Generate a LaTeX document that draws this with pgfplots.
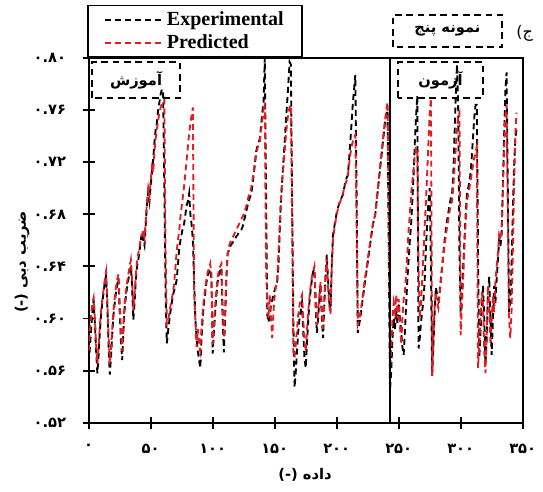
\documentclass[border=0pt]{standalone}
\usepackage{pgfplots}
\pgfplotsset{compat=1.18}
\usepackage{pgfplotstable}
\usepackage{fontspec}
\setmainfont{Liberation Serif}
\newfontfamily\arabicfont[Script=Arabic]{DejaVu Sans}
\newfontfamily\timesfont{Liberation Serif}
\TeXXeTstate=1
\definecolor{predred}{RGB}{228,28,36}

\pgfplotstableread{
x e p
0 0.566 0.575
1 0.578 0.590
2 0.592 0.603
3 0.605 0.612
4 0.614 0.616
5 0.596 0.600
6 0.575 0.580
7 0.558 0.565
8 0.572 0.578
9 0.590 0.595
10 0.603 0.606
11 0.612 0.615
12 0.620 0.622
13 0.628 0.630
14 0.633 0.636
15 0.610 0.615
16 0.580 0.588
17 0.557 0.565
18 0.570 0.578
19 0.588 0.592
20 0.603 0.606
21 0.612 0.616
22 0.620 0.624
23 0.626 0.630
24 0.631 0.634
25 0.605 0.612
26 0.583 0.590
27 0.568 0.575
28 0.590 0.596
29 0.608 0.612
30 0.617 0.620
31 0.624 0.628
32 0.630 0.634
33 0.636 0.640
34 0.640 0.645
35 0.625 0.630
36 0.599 0.606
37 0.612 0.618
38 0.630 0.634
39 0.640 0.644
40 0.645 0.650
41 0.652 0.655
42 0.660 0.662
43 0.666 0.664
44 0.660 0.668
45 0.656 0.662
46 0.672 0.675
47 0.688 0.690
48 0.697 0.700
49 0.690 0.694
50 0.702 0.706
51 0.712 0.716
52 0.722 0.712
53 0.735 0.728
54 0.745 0.738
55 0.750 0.745
56 0.760 0.752
57 0.766 0.758
58 0.772 0.762
59 0.776 0.765
60 0.775 0.766
61 0.700 0.768
62 0.620 0.650
63 0.581 0.596
64 0.590 0.598
65 0.598 0.604
66 0.606 0.610
67 0.612 0.615
68 0.618 0.620
69 0.622 0.628
70 0.625 0.640
71 0.630 0.652
72 0.642 0.660
73 0.654 0.668
74 0.660 0.678
75 0.665 0.686
76 0.670 0.694
77 0.673 0.702
78 0.680 0.712
79 0.687 0.722
80 0.690 0.732
81 0.696 0.742
82 0.680 0.750
83 0.672 0.756
84 0.660 0.762
85 0.630 0.620
86 0.600 0.600
87 0.585 0.578
88 0.575 0.592
89 0.568 0.580
90 0.562 0.575
91 0.585 0.594
92 0.601 0.606
93 0.612 0.616
94 0.620 0.624
95 0.628 0.630
96 0.633 0.636
97 0.636 0.638
98 0.638 0.642
99 0.630 0.634
100 0.573 0.580
101 0.590 0.595
102 0.605 0.610
103 0.618 0.622
104 0.628 0.632
105 0.634 0.637
106 0.637 0.640
107 0.639 0.642
108 0.600 0.610
109 0.574 0.585
110 0.600 0.605
111 0.630 0.632
112 0.650 0.648
113 0.652 0.655
114 0.655 0.658
115 0.657 0.660
116 0.658 0.662
117 0.660 0.664
118 0.661 0.666
119 0.663 0.668
120 0.664 0.670
121 0.666 0.672
122 0.667 0.674
123 0.668 0.676
124 0.670 0.678
125 0.674 0.680
126 0.678 0.683
127 0.682 0.686
128 0.686 0.690
129 0.690 0.694
130 0.693 0.697
131 0.695 0.700
132 0.702 0.706
133 0.710 0.712
134 0.718 0.720
135 0.728 0.726
136 0.732 0.730
137 0.735 0.734
138 0.738 0.736
139 0.748 0.744
140 0.758 0.752
141 0.766 0.760
142 0.800 0.766
143 0.700 0.640
144 0.603 0.612
145 0.597 0.600
146 0.603 0.618
147 0.610 0.600
148 0.614 0.585
149 0.618 0.605
150 0.622 0.618
151 0.625 0.625
152 0.628 0.630
153 0.640 0.650
154 0.665 0.670
155 0.690 0.690
156 0.705 0.706
157 0.720 0.716
158 0.735 0.728
159 0.751 0.740
160 0.765 0.750
161 0.780 0.758
162 0.797 0.762
163 0.795 0.764
164 0.700 0.680
165 0.600 0.575
166 0.547 0.570
167 0.559 0.580
168 0.575 0.592
169 0.590 0.603
170 0.600 0.610
171 0.606 0.615
172 0.612 0.618
173 0.590 0.600
174 0.570 0.582
175 0.562 0.575
176 0.580 0.590
177 0.598 0.605
178 0.612 0.616
179 0.622 0.625
180 0.630 0.632
181 0.636 0.636
182 0.638 0.640
183 0.610 0.618
184 0.589 0.595
185 0.600 0.606
186 0.614 0.618
187 0.626 0.628
188 0.600 0.606
189 0.585 0.592
190 0.610 0.615
191 0.632 0.634
192 0.649 0.646
193 0.630 0.625
194 0.612 0.610
195 0.608 0.603
196 0.640 0.638
197 0.664 0.660
198 0.670 0.668
199 0.676 0.674
200 0.681 0.680
201 0.685 0.684
202 0.688 0.688
203 0.691 0.690
204 0.693 0.693
205 0.695 0.696
206 0.700 0.700
207 0.705 0.703
208 0.708 0.706
209 0.710 0.710
210 0.722 0.718
211 0.736 0.726
212 0.750 0.732
213 0.765 0.736
214 0.776 0.739
215 0.787 0.741
216 0.700 0.680
217 0.589 0.595
218 0.595 0.598
219 0.600 0.604
220 0.608 0.610
221 0.615 0.618
222 0.622 0.625
223 0.630 0.632
224 0.636 0.638
225 0.643 0.645
226 0.650 0.652
227 0.657 0.659
228 0.664 0.665
229 0.671 0.671
230 0.676 0.676
231 0.679 0.680
232 0.688 0.689
233 0.697 0.698
234 0.706 0.708
235 0.715 0.717
236 0.724 0.726
237 0.733 0.735
238 0.742 0.744
239 0.751 0.752
240 0.757 0.760
241 0.760 0.766
242 0.650 0.680
243 0.545 0.560
244 0.560 0.578
245 0.585 0.600
246 0.600 0.612
247 0.592 0.605
248 0.608 0.618
249 0.596 0.600
250 0.612 0.615
251 0.600 0.595
252 0.590 0.580
253 0.578 0.600
254 0.572 0.615
255 0.590 0.620
256 0.610 0.635
257 0.630 0.650
258 0.645 0.668
259 0.660 0.680
260 0.672 0.695
261 0.690 0.705
262 0.710 0.715
263 0.735 0.725
264 0.755 0.731
265 0.771 0.731
266 0.577 0.640
267 0.585 0.600
268 0.597 0.612
269 0.606 0.630
270 0.614 0.650
271 0.630 0.672
272 0.655 0.690
273 0.673 0.712
274 0.690 0.735
275 0.700 0.758
276 0.640 0.769
277 0.556 0.556
278 0.580 0.585
279 0.605 0.610
280 0.624 0.620
281 0.618 0.612
282 0.614 0.608
283 0.620 0.618
284 0.630 0.628
285 0.640 0.638
286 0.650 0.648
287 0.660 0.656
288 0.668 0.664
289 0.675 0.670
290 0.681 0.676
291 0.687 0.682
292 0.692 0.687
293 0.695 0.690
294 0.710 0.700
295 0.740 0.715
296 0.770 0.730
297 0.795 0.745
298 0.760 0.756
299 0.650 0.758
300 0.605 0.587
301 0.620 0.610
302 0.640 0.630
303 0.660 0.655
304 0.680 0.675
305 0.695 0.690
306 0.700 0.695
307 0.705 0.700
308 0.712 0.706
309 0.725 0.712
310 0.740 0.718
311 0.755 0.724
312 0.764 0.728
313 0.764 0.732
314 0.650 0.562
315 0.570 0.580
316 0.590 0.600
317 0.610 0.620
318 0.625 0.612
319 0.600 0.575
320 0.565 0.558
321 0.585 0.590
322 0.620 0.625
323 0.632 0.610
324 0.600 0.580
325 0.572 0.600
326 0.600 0.618
327 0.625 0.605
328 0.612 0.628
329 0.630 0.640
330 0.645 0.650
331 0.660 0.664
332 0.655 0.660
333 0.665 0.668
334 0.700 0.700
335 0.740 0.730
336 0.775 0.755
337 0.789 0.764
338 0.700 0.680
339 0.605 0.600
340 0.612 0.585
341 0.640 0.605
342 0.680 0.650
343 0.715 0.700
344 0.738 0.740
345 0.745 0.758
}\datatable

\begin{document}
\begin{tikzpicture}
\useasboundingbox (-66.525pt,-51.975pt) rectangle (340.725pt,317.025pt);
\begin{axis}[
  scale only axis,
  width=325.5pt, height=273.525pt,
  xmin=0, xmax=350, ymin=0.52, ymax=0.80,
  xtick={0,50,100,150,200,250,300,350},
  xticklabels={۰,۵۰,۱۰۰,۱۵۰,۲۰۰,۲۵۰,۳۰۰,۳۵۰},
  ytick={0.52,0.56,0.60,0.64,0.68,0.72,0.76,0.80},
  yticklabels={۰.۵۲,۰.۵۶,۰.۶۰,۰.۶۴,۰.۶۸,۰.۷۲,۰.۷۶,۰.۸۰},
  ticklabel style={font=\arabicfont\bfseries\fontsize{11}{12}\selectfont},
  xticklabel style={yshift=-8pt},
  yticklabel style={xshift=-9pt},
  tick align=center, major tick length=9pt,
  xtick pos=bottom, ytick pos=left,
  axis line style={line width=1.6pt},
  every tick/.style={line width=1.4pt, black},
  legend style={at={(rel axis cs:0,1)}, anchor=south west, xshift=-1.3pt,
    draw=black, line width=1.2pt, inner xsep=12pt, inner ysep=3pt,
    font=\timesfont\bfseries\fontsize{15}{15}\selectfont, row sep=1pt,
    cells={anchor=west}},
  legend image code/.code={\draw[#1] (0pt,0pt) -- (44pt,0pt);},
]
\addplot[black, line width=1.4pt, dash pattern=on 4.5pt off 3pt] table[x=x,y=e]{\datatable};
\addlegendentry{Experimental}
\addplot[predred, line width=1.4pt, dash pattern=on 4.5pt off 3pt] table[x=x,y=p]{\datatable};
\addlegendentry{Predicted}
\draw[line width=1.6pt] (axis cs:243,0.52) -- (axis cs:243,0.80);
\end{axis}
\begin{scope}[dash pattern=on 5pt off 3.5pt, line width=1.2pt]
\draw (2.5pt,243.5pt) rectangle (68.5pt,270.5pt);
\draw (232pt,243.5pt) rectangle (295.7pt,270.5pt);
\draw (228.2pt,281.7pt) rectangle (310pt,305.8pt);
\end{scope}
\node at (35.5pt,257pt) {\arabicfont\bfseries\fontsize{11}{12}\selectfont\beginR آموزش\endR};
\node at (263.8pt,257pt) {\arabicfont\bfseries\fontsize{11}{12}\selectfont\beginR آزمون\endR};
\node at (269pt,293.7pt) {\arabicfont\bfseries\fontsize{11}{12}\selectfont\beginR نمونه پنج\endR};
\node at (327pt,292.3pt) {\arabicfont\fontsize{12}{13}\selectfont\beginR ج)\endR};
\node[rotate=90] at (-50pt,120.5pt) {\arabicfont\bfseries\fontsize{11}{12}\selectfont (-) \beginR ضریب دبی\endR};
\node at (162.2pt,-39.4pt) {\arabicfont\bfseries\fontsize{11}{12}\selectfont (-) \beginR داده\endR};
\end{tikzpicture}
\end{document}
